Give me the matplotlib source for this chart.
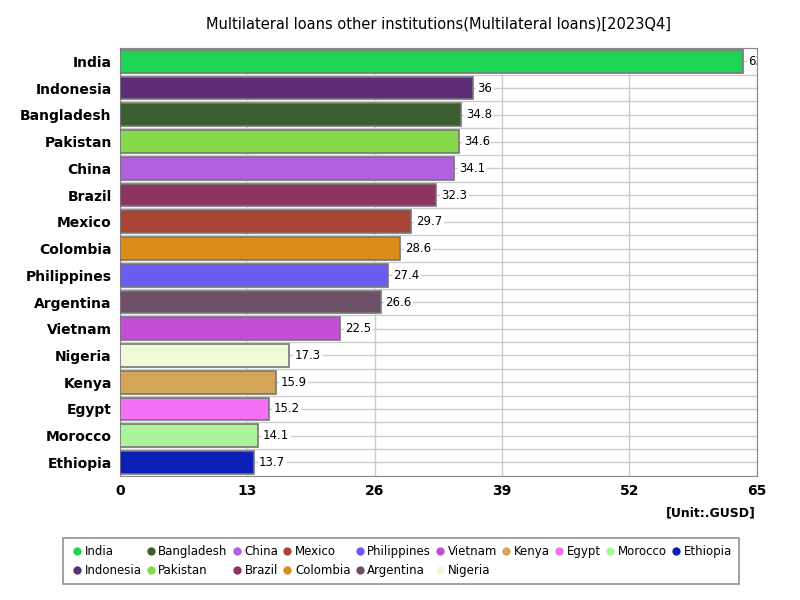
import matplotlib
matplotlib.use("Agg")
import matplotlib.pyplot as plt
from matplotlib.lines import Line2D

countries = ["India","Indonesia","Bangladesh","Pakistan","China","Brazil","Mexico","Colombia",
             "Philippines","Argentina","Vietnam","Nigeria","Kenya","Egypt","Morocco","Ethiopia"]
values = [63.6,36,34.8,34.6,34.1,32.3,29.7,28.6,27.4,26.6,22.5,17.3,15.9,15.2,14.1,13.7]
colors = ["#1ed454","#5e2d78","#3a5e30","#86d94a","#b160e0","#8b3560","#a84436","#d88e18",
          "#6a5cf0","#6b5068","#c24fd4","#eefad8","#d4a458","#f470f4","#aaf59a","#0a1fb8"]
xticks = [0,13,26,39,52,65]

fig = plt.figure(figsize=(8,6), dpi=100)
ax = fig.add_axes([0.15, 0.207, 0.796, 0.713])
y = list(range(len(countries)))
ax.barh(y, values, color=colors, edgecolor="#777777", linewidth=1.2, height=0.85, zorder=3)
for yi, v in zip(y, values):
    t = ax.text(v + 0.5, yi, f"{v:g}", va="center", ha="left", fontsize=8.5, zorder=4,
                bbox=dict(facecolor="white", edgecolor="none", pad=1))
    t.set_clip_on(True)
ax.set_ylim(len(countries)-0.5, -0.5)
ax.set_xlim(0, 65)
ax.set_yticks(y)
ax.set_yticklabels(countries, fontsize=10, fontweight="bold")
ax.set_xticks(xticks)
ax.set_xticklabels([str(x) for x in xticks], fontsize=10, fontweight="bold")
ax.tick_params(length=0, pad=6)
ax.grid(True, color="#cccccc", linewidth=1, zorder=0)
for yi in range(len(countries)+1):
    ax.axhline(yi-0.5, color="#cccccc", linewidth=1, zorder=0)
for s in ax.spines.values():
    s.set_color("#888888")
ax.set_title("Multilateral loans other institutions(Multilateral loans)[2023Q4]", fontsize=10.5, pad=14)
fig.text(0.945, 0.14, "[Unit:.GUSD]", ha="right", fontsize=9, fontweight="bold")

handles = [Line2D([0],[0], marker="o", color="w", markerfacecolor=c, markersize=7, label=n)
           for n, c in zip(countries, colors)]
leg = fig.legend(handles=handles, loc="lower left", bbox_to_anchor=(0.071, 0.017, 0.86, 0.09),
                 mode="expand", ncol=10, fontsize=8.5, frameon=True, fancybox=False,
                 handletextpad=0.05, columnspacing=0.6, borderpad=0.6, handlelength=1.2)
leg.get_frame().set_edgecolor("#777777")
leg.get_frame().set_linewidth(1.2)
fig.savefig("out.png")
